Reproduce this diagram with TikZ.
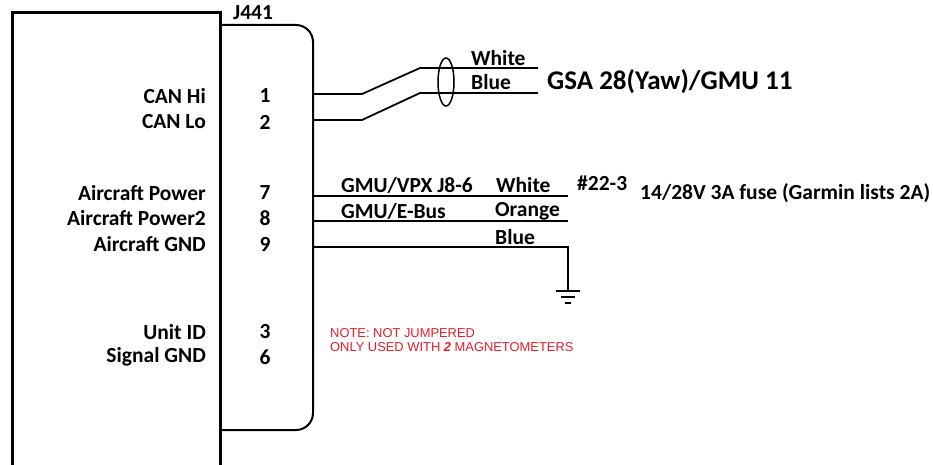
\documentclass[tikz,border=0pt]{standalone}
\usepackage{fontspec}
\setmainfont{Carlito}
\newfontfamily\arialf{Liberation Sans}
\definecolor{notered}{RGB}{230,30,40}
\begin{document}
\begin{tikzpicture}[x=1pt,y=-1pt,
  lbl/.style={font=\fontsize{21.5}{25}\selectfont\bfseries, inner sep=0pt},
  pin/.style={lbl, anchor=center},
  wire/.style={line width=1.8pt},
  note/.style={font=\fontsize{12.9}{14}\selectfont\arialf, text=notered, align=left, inner sep=0pt}]
\useasboundingbox (0,0) rectangle (933,465);
% box and connector
\draw[line width=3pt] (12,475) -- (12,13) -- (220,13) -- (220,475);
\draw[line width=2pt, rounded corners=17pt] (220,25) -| (313,430) -- (220,430);
\node[lbl, anchor=base west] (j441) at (233,20) {J441};
% pin labels
\node[lbl, anchor=east] (canhi) at (206,96) {CAN Hi};
\node[lbl, anchor=east] (canlo) at (206,122) {CAN Lo};
\node[lbl, anchor=east] (acp) at (206,193) {Aircraft Power};
\node[lbl, anchor=east] (acp2) at (206,218) {Aircraft Power2};
\node[lbl, anchor=east] (acgnd) at (206,244) {Aircraft GND};
\node[lbl, anchor=east] (uid) at (206,332) {Unit ID};
\node[lbl, anchor=east] (sgnd) at (206,357) {Signal GND};
\node[pin] (p1) at (265,96) {1};
\node[pin] (p2) at (265,122) {2};
\node[pin] (p7) at (265,193) {7};
\node[pin] (p8) at (265,218) {8};
\node[pin] (p9) at (265,244) {9};
\node[pin] (p3) at (265,332) {3};
\node[pin] (p6) at (265,357) {6};
% CAN wires
\coordinate (hiA) at (313,94);
\coordinate (hiB) at (362,94);
\coordinate (hiC) at (420,68);
\coordinate (hiD) at (538,68);
\coordinate (loA) at (313,120);
\coordinate (loB) at (362,120);
\coordinate (loC) at (420,93);
\coordinate (loD) at (538,93);
\draw[wire] (hiA) -- (hiB) -- (hiC) -- (hiD);
\draw[wire] (loA) -- (loB) -- (loC) -- (loD);
\draw[line width=1.5pt] (446,82) ellipse [x radius=8, y radius=24];
\node[lbl, anchor=west] (white1) at (471,58) {White};
\node[lbl, anchor=west] (blue1) at (471,82) {Blue};
\node[lbl, anchor=west, font=\fontsize{27}{30}\selectfont\bfseries] (gsa) at (547,82) {GSA 28(Yaw)/GMU 11};
% power wires
\coordinate (pwA) at (313,196);
\coordinate (pwB) at (568,196);
\coordinate (orA) at (313,221);
\coordinate (orB) at (568,221);
\coordinate (gnA) at (313,247);
\coordinate (gnB) at (568,247);
\coordinate (gnd) at (568,291);
\draw[wire] (pwA) -- (pwB);
\draw[wire] (orA) -- (orB);
\draw[wire] (gnA) -- (gnB) -- (gnd);
\draw[line width=1.5pt] ([xshift=-12pt]gnd) -- ([xshift=12pt]gnd);
\draw[line width=1.5pt] ([xshift=-7pt,yshift=-6pt]gnd) -- ([xshift=7pt,yshift=-6pt]gnd);
\draw[line width=1.5pt] ([xshift=-3pt,yshift=-12pt]gnd) -- ([xshift=3pt,yshift=-12pt]gnd);
\node[lbl, anchor=west] (vpx) at (341,185) {GMU/VPX J8-6};
\node[lbl, anchor=west] (white2) at (496,185) {White};
\node[lbl, anchor=west] (ebus) at (341,211) {GMU/E-Bus};
\node[lbl, anchor=west] (orange) at (495,211) {Orange};
\node[lbl, anchor=west] (blue2) at (495,237) {Blue};
\node[lbl, anchor=west] (awg) at (577,183) {\#22-3};
\node[lbl, anchor=west] (fuse) at (640,193) {14/28V 3A fuse (Garmin lists 2A)};
% note
\node[note, anchor=north west] (nt) at (330,328) {NOTE: NOT JUMPERED\\ONLY USED WITH {\bfseries\itshape 2} MAGNETOMETERS};
\end{tikzpicture}
\end{document}
